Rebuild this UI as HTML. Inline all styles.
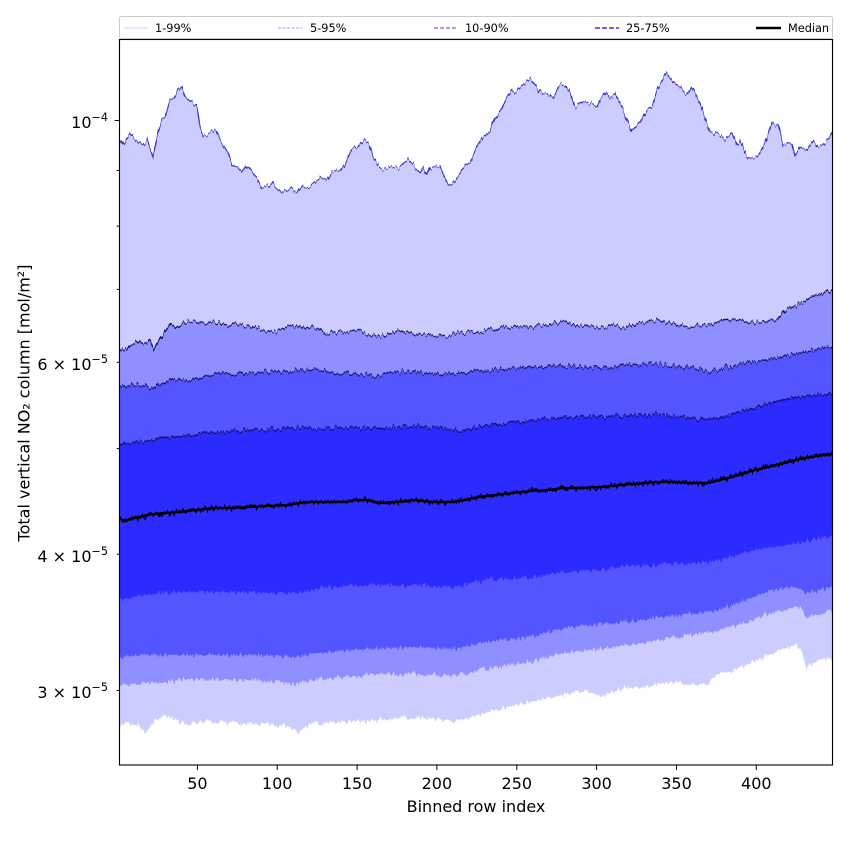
<!DOCTYPE html>
<html>
<head>
<meta charset="utf-8">
<style>
  html, body { margin: 0; padding: 0; background: #ffffff; }
  svg { display: block; }
  text { font-family: "DejaVu Sans", "Liberation Sans", sans-serif; fill: #000; }
</style>
</head>
<body>
<svg width="850" height="850" viewBox="0 0 850 850" xmlns="http://www.w3.org/2000/svg">
  <defs>
    <clipPath id="ax">
      <rect x="119.5" y="39.5" width="713" height="725.5"/>
    </clipPath>
    <filter id="j" x="-5%" y="-5%" width="110%" height="110%" color-interpolation-filters="sRGB">
      <feTurbulence type="fractalNoise" baseFrequency="0.45 0.02" numOctaves="2" seed="7" result="t"/>
      <feColorMatrix in="t" type="matrix" values="0 0 0 0 0.5  1 0 0 0 0  0 0 0 0 0  0 0 0 0 1" result="m"/>
      <feDisplacementMap in="SourceGraphic" in2="m" scale="10" xChannelSelector="R" yChannelSelector="G"/>
    </filter>
  </defs>

  <rect x="0" y="0" width="850" height="850" fill="#ffffff"/>

  <g clip-path="url(#ax)">
    <g filter="url(#j)">
      <!-- 1-99% band -->
      <polygon fill="#ccccff" points="116,140 119,140 120,138 123,145 130,133 136,140 143,145 147,140 153,157 158,132 162,119 165,118 170,100 174,98 178,90 182,87 185,97 189,100 193,103 197,107 200,127 203,135 210,134 216,131 220,140 228,153 232,166 238,167 242,173 247,166 253,173 258,180 262,188 267,187 272,182 275,187 283,193 290,188 297,193 303,185 310,187 320,178 327,182 332,173 340,172 345,165 352,148 358,147 364,140 369,143 373,157 378,165 383,168 390,167 398,167 408,160 415,168 420,173 423,167 427,175 430,167 440,167 443,175 448,185 455,180 463,168 470,162 477,147 483,137 490,132 495,118 502,108 507,97 512,90 515,93 522,85 530,78 537,87 540,93 547,93 553,98 559,86 565,85 570,93 575,107 582,102 590,103 597,107 600,100 605,92 610,98 615,93 623,110 632,131 640,123 647,110 652,107 657,90 666,73 673,82 680,87 687,95 692,87 700,103 707,123 710,132 720,135 725,140 732,133 737,145 740,142 748,158 757,158 765,143 772,122 778,125 783,145 792,143 795,157 800,147 807,150 813,140 818,147 823,145 830,137 833,130 836,130
        836,659 833,659 820,660 806,667 801,649 795,645 783,649 764,657 741,667 718,675 708,684 695,684 671,682 648,686 624,689 612,692 601,697 587,690 575,692 554,697 530,702 507,707 484,714 470,718 456,721 436,719 414,717 390,719 367,721 340,722 311,724 299,731 288,726 270,724 250,724 225,722 203,721 185,724 175,720 166,716 157,719 152,723 147,732 138,726 131,724 124,722 119,731 116,731"/>
      <!-- 5-95% band -->
      <polygon fill="#8f8fff" points="116,347 119,347 124,351 131,345 138,342 144,344 150,341 154,349 161,337 170,324 175,327 185,322 194,320 205,323 217,322 227,325 236,324 250,327 262,330 274,332 285,328 297,326 306,329 316,327 325,334 340,331 358,331 370,335 381,337 390,333 400,331 410,334 418,334 432,336 446,336 460,333 475,332 490,330 507,327 523,327 540,326 552,324 563,322 575,325 587,326 600,327 612,326 624,327 640,323 657,320 670,324 685,327 697,326 708,326 720,321 732,319 745,321 755,322 767,320 778,319 785,310 797,305 805,301 811,297 820,294 827,290 833,293 836,293
        836,610 833,610 820,614 806,618 803,610 797,607 783,610 764,615 741,624 718,630 694,635 671,638 647,642 625,645 601,649 580,651 559,654 531,662 507,665 484,669 456,675 436,675 414,674 390,674 367,675 340,677 311,680 297,684 275,682 250,680 215,680 185,679 147,684 119,684 116,684"/>
      <!-- 10-90% band -->
      <polygon fill="#5555ff" points="116,388 119,388 128,386 138,384 145,386 152,388 160,384 171,379 180,381 189,381 205,377 222,374 236,374 250,373 268,372 288,371 300,370 311,369 322,371 334,373 355,374 376,376 392,373 409,371 423,373 437,374 450,373 465,373 490,370 512,369 535,367 559,366 580,367 601,368 630,365 657,364 675,366 694,369 710,371 720,369 732,366 748,363 764,361 776,358 788,356 800,353 811,351 822,348 833,347 836,347
        836,585 833,585 820,590 806,593 797,587 783,588 764,593 741,602 718,610 694,614 671,616 647,619 625,621 601,624 580,626 559,629 531,637 507,640 484,642 456,649 436,648 414,647 390,648 367,649 340,651 311,654 297,657 275,656 250,655 215,655 180,655 138,655 119,657 116,657"/>
      <!-- 25-75% band -->
      <polygon fill="#2b2bff" points="116,445 119,445 130,443 143,442 157,439 171,437 187,435 204,433 227,431 250,430 280,429 311,428 341,428 372,428 392,427 414,427 437,428 461,430 485,426 507,423 535,420 563,418 593,417 624,416 641,415 657,415 683,417 708,420 720,418 732,415 748,410 764,405 778,401 792,398 806,396 820,395 833,393 836,393
        836,537 833,537 822,538 810,540 795,543 780,546 765,548 750,551 735,556 718,560 708,563 695,563 671,563 647,565 625,567 601,570 580,571 559,573 531,577 507,578 484,580 456,587 436,586 414,585 390,585 367,585 345,586 320,588 297,593 275,593 250,592 220,592 194,592 157,593 133,597 119,600 116,600"/>

      <!-- upper percentile lines -->
      <polyline fill="none" stroke="#3434c8" stroke-width="1.1" points="116,140 119,140 120,138 123,145 130,133 136,140 143,145 147,140 153,157 158,132 162,119 165,118 170,100 174,98 178,90 182,87 185,97 189,100 193,103 197,107 200,127 203,135 210,134 216,131 220,140 228,153 232,166 238,167 242,173 247,166 253,173 258,180 262,188 267,187 272,182 275,187 283,193 290,188 297,193 303,185 310,187 320,178 327,182 332,173 340,172 345,165 352,148 358,147 364,140 369,143 373,157 378,165 383,168 390,167 398,167 408,160 415,168 420,173 423,167 427,175 430,167 440,167 443,175 448,185 455,180 463,168 470,162 477,147 483,137 490,132 495,118 502,108 507,97 512,90 515,93 522,85 530,78 537,87 540,93 547,93 553,98 559,86 565,85 570,93 575,107 582,102 590,103 597,107 600,100 605,92 610,98 615,93 623,110 632,131 640,123 647,110 652,107 657,90 666,73 673,82 680,87 687,95 692,87 700,103 707,123 710,132 720,135 725,140 732,133 737,145 740,142 748,158 757,158 765,143 772,122 778,125 783,145 792,143 795,157 800,147 807,150 813,140 818,147 823,145 830,137 833,130 836,130"/>
      <polyline fill="none" stroke="#0c0c5e" stroke-width="1.3" points="116,347 119,347 124,351 131,345 138,342 144,344 150,341 154,349 161,337 170,324 175,327 185,322 194,320 205,323 217,322 227,325 236,324 250,327 262,330 274,332 285,328 297,326 306,329 316,327 325,334 340,331 358,331 370,335 381,337 390,333 400,331 410,334 418,334 432,336 446,336 460,333 475,332 490,330 507,327 523,327 540,326 552,324 563,322 575,325 587,326 600,327 612,326 624,327 640,323 657,320 670,324 685,327 697,326 708,326 720,321 732,319 745,321 755,322 767,320 778,319 785,310 797,305 805,301 811,297 820,294 827,290 833,293 836,293"/>
      <polyline fill="none" stroke="#0c0c5e" stroke-width="1.3" points="116,388 119,388 128,386 138,384 145,386 152,388 160,384 171,379 180,381 189,381 205,377 222,374 236,374 250,373 268,372 288,371 300,370 311,369 322,371 334,373 355,374 376,376 392,373 409,371 423,373 437,374 450,373 465,373 490,370 512,369 535,367 559,366 580,367 601,368 630,365 657,364 675,366 694,369 710,371 720,369 732,366 748,363 764,361 776,358 788,356 800,353 811,351 822,348 833,347 836,347"/>
      <polyline fill="none" stroke="#0c0c5e" stroke-width="1.3" points="116,445 119,445 130,443 143,442 157,439 171,437 187,435 204,433 227,431 250,430 280,429 311,428 341,428 372,428 392,427 414,427 437,428 461,430 485,426 507,423 535,420 563,418 593,417 624,416 641,415 657,415 683,417 708,420 720,418 732,415 748,410 764,405 778,401 792,398 806,396 820,395 833,393 836,393"/>

      <!-- median (jittered) -->
      <polyline fill="none" stroke="#000000" stroke-width="2.6" stroke-linejoin="round" points="116,518 119,518 124,521 135,518 147,515 163,513 180,512 196,510 213,508 231,508 250,507 268,506 288,505 300,503 311,502 327,502 344,502 355,500 367,500 375,502 381,503 397,502 414,500 432,502 451,502 465,500 479,497 495,495 512,493 530,491 549,490 563,488 580,488 601,487 620,485 643,483 657,482 671,482 690,483 708,483 720,480 732,477 748,472 764,468 776,465 788,462 800,459 811,457 822,455 833,454 836,454"/>
    </g>
    <!-- median (solid core) -->
    <polyline fill="none" stroke="#000000" stroke-width="2.3" stroke-linejoin="round" points="116,518 119,518 124,521 135,518 147,515 163,513 180,512 196,510 213,508 231,508 250,507 268,506 288,505 300,503 311,502 327,502 344,502 355,500 367,500 375,502 381,503 397,502 414,500 432,502 451,502 465,500 479,497 495,495 512,493 530,491 549,490 563,488 580,488 601,487 620,485 643,483 657,482 671,482 690,483 708,483 720,480 732,477 748,472 764,468 776,465 788,462 800,459 811,457 822,455 833,454 836,454"/>
  </g>

  <!-- axes frame -->
  <rect x="119.5" y="39.5" width="713" height="725.5" fill="none" stroke="#000" stroke-width="1.1"/>

  <!-- y ticks -->
  <g stroke="#000" stroke-width="1">
    <line x1="114.6" y1="120.5" x2="119.5" y2="120.5"/>
    <line x1="116.7" y1="170.4" x2="119.5" y2="170.4"/>
    <line x1="116.7" y1="226.1" x2="119.5" y2="226.1"/>
    <line x1="116.7" y1="289.4" x2="119.5" y2="289.4"/>
    <line x1="116.7" y1="362.3" x2="119.5" y2="362.3"/>
    <line x1="116.7" y1="448.6" x2="119.5" y2="448.6"/>
    <line x1="116.7" y1="554.2" x2="119.5" y2="554.2"/>
    <line x1="116.7" y1="690.4" x2="119.5" y2="690.4"/>
  </g>
  <g font-size="16" text-anchor="end">
    <text x="108" y="128">10<tspan font-size="11.2" dy="-7">−4</tspan></text>
    <text x="108" y="370">6 × 10<tspan font-size="11.2" dy="-7">−5</tspan></text>
    <text x="108" y="562">4 × 10<tspan font-size="11.2" dy="-7">−5</tspan></text>
    <text x="108" y="698">3 × 10<tspan font-size="11.2" dy="-7">−5</tspan></text>
  </g>

  <!-- x ticks -->
  <g stroke="#000" stroke-width="1">
    <line x1="197.4" y1="765" x2="197.4" y2="770"/>
    <line x1="277.2" y1="765" x2="277.2" y2="770"/>
    <line x1="357.1" y1="765" x2="357.1" y2="770"/>
    <line x1="436.9" y1="765" x2="436.9" y2="770"/>
    <line x1="516.8" y1="765" x2="516.8" y2="770"/>
    <line x1="596.6" y1="765" x2="596.6" y2="770"/>
    <line x1="676.5" y1="765" x2="676.5" y2="770"/>
    <line x1="756.3" y1="765" x2="756.3" y2="770"/>
  </g>
  <g font-size="16" text-anchor="middle">
    <text x="197.4" y="789">50</text>
    <text x="277.2" y="789">100</text>
    <text x="357.1" y="789">150</text>
    <text x="436.9" y="789">200</text>
    <text x="516.8" y="789">250</text>
    <text x="596.6" y="789">300</text>
    <text x="676.5" y="789">350</text>
    <text x="756.3" y="789">400</text>
  </g>

  <!-- axis labels -->
  <text x="476" y="812" font-size="16" text-anchor="middle">Binned row index</text>
  <text x="0" y="0" font-size="16" text-anchor="middle" transform="translate(29.5,403) rotate(-90)">Total vertical NO₂ column [mol/m²]</text>

  <!-- legend -->
  <rect x="119.5" y="16.5" width="713" height="22" rx="2" ry="2" fill="#ffffff" fill-opacity="0.85" stroke="#cccccc" stroke-width="1"/>
  <line x1="124" y1="28" x2="148" y2="28" stroke="#d6d6f4" stroke-width="1"/>
  <line x1="278" y1="28" x2="302" y2="28" stroke="#a4a4f0" stroke-width="1" stroke-dasharray="3,1.5"/>
  <line x1="434" y1="28" x2="458" y2="28" stroke="#8080f2" stroke-width="1.4" stroke-dasharray="4,2"/>
  <line x1="595" y1="28" x2="619" y2="28" stroke="#6666ff" stroke-width="2" stroke-dasharray="5,2"/>
  <line x1="756" y1="28" x2="781" y2="28" stroke="#000000" stroke-width="2.5"/>
  <g font-size="11.3">
    <text x="155" y="32">1-99%</text>
    <text x="310" y="32">5-95%</text>
    <text x="465" y="32">10-90%</text>
    <text x="626" y="32">25-75%</text>
    <text x="788" y="32">Median</text>
  </g>
</svg>
</body>
</html>
